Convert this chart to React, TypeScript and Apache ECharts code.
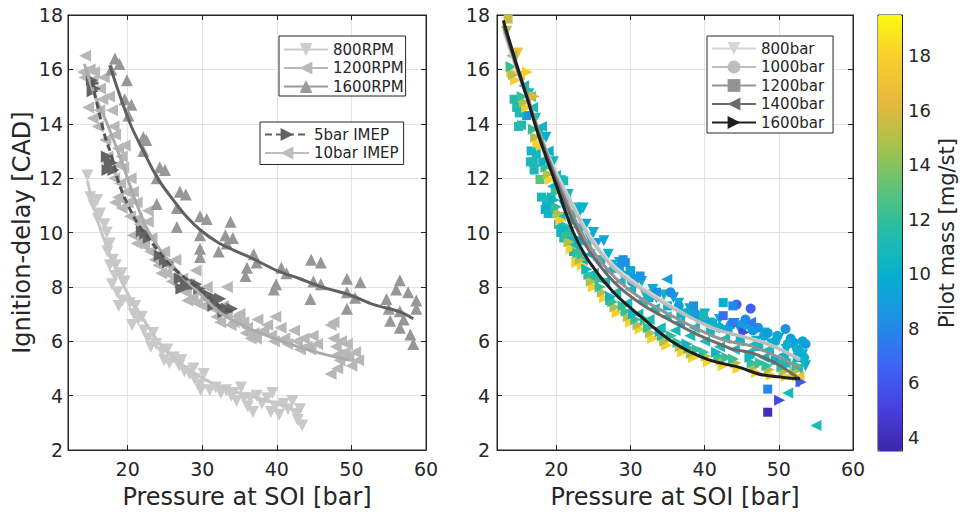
import React, { useEffect, useRef } from 'react';
import * as echarts from 'echarts';

// ---------------- Left panel data: [pressure at SOI (bar), ignition delay (CAD)] ----------------
const rpm800Points = [
  [14.6, 12.1], [15.0, 11.3], [15.4, 11.0], [15.9, 11.2], [16.3, 10.7], [16.9, 10.3], [17.2, 10.0], [17.6, 9.6],
  [17.3, 9.3], [18.0, 9.0], [17.6, 8.8], [18.3, 8.4], [17.9, 8.1], [18.6, 7.8], [19.2, 8.5], [19.6, 8.2],
  [19.3, 7.5], [18.8, 7.3], [20.3, 7.4], [20.8, 7.0], [21.4, 6.8], [20.6, 6.6], [21.9, 6.9], [22.2, 6.4],
  [22.7, 6.1], [23.1, 5.8], [23.8, 5.9], [24.6, 5.6], [24.9, 5.3], [25.6, 5.2], [26.2, 5.4], [26.9, 5.1],
  [27.6, 4.9], [28.3, 4.8], [29.0, 4.6], [29.7, 4.4], [30.2, 4.8], [29.8, 4.2], [31.0, 4.2], [31.8, 4.3],
  [32.5, 4.1], [33.2, 4.2], [33.9, 4.0], [34.6, 3.8], [35.2, 4.3], [35.6, 3.9], [36.1, 3.6], [36.8, 3.4],
  [37.3, 4.0], [38.0, 3.7], [38.7, 3.9], [39.4, 4.1], [39.8, 3.6], [40.3, 3.3], [40.9, 3.7], [41.5, 3.5],
  [42.1, 3.8], [42.6, 3.3], [43.1, 3.5], [43.4, 2.9], [42.8, 3.1], [16.0, 10.5], [18.4, 8.8], [21.0, 7.3],
  [23.4, 6.3], [25.3, 5.7], [27.2, 5.3], [28.8, 5.0], [34.2, 4.1], [36.4, 3.9], [39.2, 3.4]
];
const rpm1200Points = [
  [14.3, 16.5], [14.0, 15.9], [14.2, 15.7], [14.9, 16.0], [15.5, 15.9], [15.3, 15.6], [16.3, 15.3], [16.8, 15.7],
  [14.7, 14.6], [15.3, 14.2], [16.2, 14.5], [16.6, 14.9], [17.5, 15.0], [17.9, 14.5], [18.1, 13.9], [18.3, 13.6],
  [18.7, 13.1], [17.3, 12.8], [17.1, 12.6], [17.8, 12.3], [18.2, 12.0], [18.7, 12.5], [19.2, 12.8], [19.4, 12.4],
  [19.6, 13.2], [18.7, 11.3], [18.3, 11.1], [19.2, 10.9], [19.8, 11.5], [20.0, 11.1], [20.3, 10.6], [20.4, 12.0],
  [20.7, 11.5], [21.2, 11.1], [21.2, 10.5], [20.7, 9.9], [21.2, 9.6], [21.8, 10.0], [22.2, 9.5], [22.7, 10.4],
  [22.7, 10.8], [23.2, 9.8], [23.6, 9.0], [24.1, 8.8], [24.5, 8.5], [24.9, 9.3], [25.4, 8.8], [25.9, 8.2],
  [26.4, 9.0], [26.9, 8.0], [27.8, 7.8], [28.2, 8.1], [28.7, 7.6], [29.1, 8.6], [29.6, 7.8], [30.1, 7.3],
  [30.6, 8.0], [31.5, 7.2], [31.9, 6.9], [32.4, 6.7], [33.3, 8.0], [33.3, 7.0], [34.2, 6.7], [35.0, 7.0],
  [35.5, 6.7], [36.0, 6.5], [36.5, 6.1], [36.9, 6.3], [37.4, 6.8], [38.7, 6.6], [39.2, 6.2], [39.6, 6.0],
  [39.8, 6.9], [40.5, 6.5], [41.0, 6.1], [41.4, 5.9], [42.3, 6.4], [42.7, 6.0], [43.6, 6.1], [44.0, 5.8],
  [44.5, 5.7], [45.4, 5.9], [47.2, 6.6], [47.6, 6.7], [47.6, 6.1], [47.9, 5.8], [48.1, 5.5], [48.6, 6.0],
  [49.1, 5.6], [49.6, 5.4], [50.5, 5.6], [50.9, 5.3], [47.2, 4.8], [48.1, 5.0], [50.0, 5.1], [16.0, 13.9],
  [17.0, 13.4], [19.0, 11.8], [21.6, 10.3], [23.0, 9.3], [24.3, 9.1], [25.2, 8.5], [26.2, 8.4], [27.3, 8.3],
  [28.0, 7.5], [29.3, 7.4], [30.4, 7.6], [31.2, 7.5], [32.8, 7.3], [33.8, 6.6], [34.6, 6.9], [35.8, 6.3],
  [37.2, 6.1], [38.2, 6.4], [43.1, 5.7], [44.8, 6.2], [48.4, 5.3], [49.4, 5.9]
];
const rpm1600Points = [
  [18.3, 16.4], [18.9, 16.2], [17.8, 16.0], [19.9, 15.6], [19.6, 14.9], [20.5, 14.7], [20.1, 14.3], [22.1, 13.5],
  [22.5, 13.4], [22.1, 13.0], [24.3, 12.4], [25.0, 12.3], [23.9, 12.0], [23.9, 11.05], [27.0, 11.5], [27.8, 11.4],
  [26.6, 10.9], [26.6, 10.2], [29.7, 10.6], [30.6, 10.5], [29.7, 9.9], [29.7, 9.4], [29.7, 9.1], [32.2, 9.3],
  [33.3, 9.6], [33.8, 10.4], [33.1, 9.9], [34.1, 9.8], [36.0, 8.7], [36.9, 9.2], [35.8, 8.4], [37.3, 8.9],
  [40.6, 8.7], [41.3, 8.5], [39.9, 8.1], [39.6, 7.9], [44.6, 9.0], [45.9, 8.9], [44.9, 8.2], [45.9, 8.1],
  [44.5, 7.55], [49.4, 8.3], [51.2, 8.17], [49.4, 7.8], [49.4, 7.2], [50.5, 7.6], [56.5, 8.24], [56.0, 7.9],
  [57.6, 7.8], [58.7, 7.5], [54.7, 7.55], [55.2, 6.75], [56.5, 6.5], [57.9, 6.25], [58.3, 5.9], [56.5, 7.1],
  [58.7, 7.2], [55.0, 7.2], [57.0, 6.8]
];
const imep5Points = [
  [15.2, 15.6], [15.4, 15.5], [15.6, 15.3], [15.3, 15.2], [17.2, 12.8], [17.6, 12.55], [17.3, 12.3], [17.85, 12.57],
  [18.1, 12.3], [21.9, 10.05], [22.35, 9.95], [22.8, 9.8], [24.3, 9.15], [25.0, 9.0], [25.4, 8.9], [27.0, 8.3],
  [27.8, 8.17], [28.2, 8.05], [27.2, 7.93], [29.6, 7.93], [29.2, 8.1], [28.8, 8.1], [31.0, 7.68], [31.5, 7.31],
  [31.9, 7.5], [32.4, 7.56], [32.8, 7.2], [33.3, 7.2], [34.0, 7.2], [32.85, 7.07]
];
const fit800 = [[14.6, 11.9], [15.5, 10.9], [16.5, 10.0], [17.6, 9.2], [19, 8.3], [20.5, 7.5], [22, 6.85], [24.5, 5.85], [27, 5.2], [29.7, 4.7], [33, 4.25], [36.4, 4.0], [40, 3.7], [43.3, 3.4]];
const fit1200 = [[14.2, 16.2], [15.5, 15.1], [17.4, 13.9], [19.2, 12.6], [21.0, 11.2], [22.5, 10.2], [24.0, 9.5], [26.6, 8.6], [29.7, 7.75], [32.4, 7.05], [34.6, 6.7], [36.4, 6.45], [40.9, 5.98], [45.3, 5.6], [49.8, 5.3]];
const fit1600 = [[17.6, 16.15], [19, 15.0], [20.5, 13.9], [22.1, 13.0], [24, 12.0], [26.1, 11.2], [28, 10.55], [29.7, 10.1], [32, 9.65], [34.2, 9.35], [36.4, 9.09], [40, 8.6], [43.1, 8.3], [46, 8.0], [49.8, 7.7], [53, 7.35], [56.5, 7.08], [58.3, 6.83]];
const fit5bar = [[15.2, 15.6], [16.0, 14.6], [17.0, 13.5], [17.86, 12.8], [18.6, 12.0], [19.4, 11.4], [20.5, 10.75], [21.65, 10.2], [23.9, 9.4], [26.1, 8.7], [29.7, 7.9], [32.8, 7.2], [34.3, 7.1]];

// ---------------- Right panel data: [pressure at SOI (bar), ignition delay (CAD), pilot mass (mg/st)] ----------------
const inj800Points = [
  [13.3, 17.4, 15], [14.8, 16.6, 17], [16.3, 15.1, 11], [17.2, 14.2, 11.5], [18.0, 13.4, 10.5], [19.0, 12.5, 11],
  [20.0, 11.8, 12], [21.0, 11.0, 10.5], [22.0, 10.4, 10], [23.2, 10.8, 9.5], [23.6, 10.9, 10], [24.5, 9.8, 10],
  [25.5, 9.6, 9], [26.4, 9.7, 9.5], [27.5, 8.8, 10], [29.0, 8.4, 9.5], [30.5, 8.0, 10], [32.0, 7.7, 10.5],
  [33.5, 7.6, 9.5], [35.8, 7.6, 8.5], [37.0, 7.0, 10], [39.0, 6.8, 10], [41.0, 6.6, 10.5], [43.0, 6.4, 9.5],
  [45.0, 6.3, 10], [47.0, 6.0, 10], [49.0, 5.9, 9.5], [51.0, 5.7, 10], [52.7, 4.5, 5], [53.2, 5.5, 10],
  [18.6, 13.5, 10], [19.6, 12.6, 10.5], [20.6, 11.9, 10], [21.6, 11.4, 10], [22.6, 10.9, 10.5], [24.0, 10.3, 9.5],
  [25.0, 10.0, 10], [27.0, 9.2, 10], [28.5, 8.9, 9.5], [30.0, 8.5, 10], [31.5, 8.2, 10], [33.0, 7.9, 10],
  [34.5, 7.7, 10.5], [36.5, 7.4, 10], [38.0, 7.2, 10], [40.0, 7.0, 10], [42.0, 6.8, 10], [44.0, 6.65, 9.5],
  [46.0, 6.5, 10], [48.0, 6.3, 10], [50.0, 6.1, 9.5], [52.0, 5.8, 10], [53.6, 5.1, 9.5]
];
const inj1000Points = [
  [28.0, 8.7, 9], [30.2, 8.2, 9], [33.0, 7.7, 9.5], [35.4, 7.8, 8.5], [36.5, 7.3, 9], [38.0, 7.1, 10],
  [40.0, 6.8, 9.5], [42.0, 6.5, 10], [44.3, 7.35, 6.5], [46.2, 7.2, 6.5], [44.8, 6.6, 9], [46.5, 6.4, 9],
  [48.0, 6.2, 9.5], [49.5, 6.0, 10], [50.9, 6.45, 8.5], [51.6, 6.1, 9], [52.0, 5.95, 9], [52.5, 5.7, 10],
  [53.2, 6.0, 9.5], [53.6, 5.9, 9], [53.4, 5.4, 10], [38.8, 7.0, 9], [41.0, 6.7, 10], [43.5, 6.6, 9.5],
  [45.5, 6.8, 8], [47.2, 6.5, 8.5], [48.5, 6.3, 9], [49.8, 6.2, 9.5], [51.2, 5.9, 10], [52.8, 5.6, 10]
];
const inj1200Points = [
  [13.5, 17.85, 15.5], [14.65, 14.6, 11.5], [15.3, 13.95, 11], [16.0, 14.3, 9], [16.9, 12.6, 11], [17.3, 12.9, 11],
  [17.8, 11.95, 13], [18.7, 11.1, 10], [19.1, 11.2, 11], [19.6, 10.85, 10.5], [21.0, 11.9, 11], [21.4, 11.4, 11],
  [22.3, 9.3, 11], [25.0, 8.3, 11], [27.2, 7.5, 11], [29.0, 9.0, 8.5], [30.0, 8.6, 9.5], [31.3, 8.4, 8.5],
  [33.5, 7.8, 8.5], [35.0, 7.3, 10], [38.5, 7.3, 8.5], [39.85, 6.95, 11], [42.5, 7.42, 10], [43.8, 7.3, 8],
  [42.5, 6.94, 7], [43.8, 6.69, 7.5], [46.0, 6.6, 9], [48.5, 4.24, 8], [48.5, 3.39, 4], [49.5, 5.3, 10],
  [51.0, 5.2, 10.5], [52.5, 5.4, 10], [14.3, 14.9, 11.5], [15.0, 14.4, 11], [14.9, 13.9, 11.5], [16.5, 12.6, 11],
  [16.6, 13.0, 10.5], [17.0, 12.3, 11], [18.0, 11.3, 11], [18.5, 10.85, 10], [18.9, 10.7, 10.5], [19.3, 11.3, 11],
  [20.3, 10.3, 11], [20.6, 10.0, 10.5], [21.0, 9.8, 11], [21.8, 9.7, 11], [23.0, 9.7, 9.5], [26.0, 9.0, 10],
  [28.5, 8.7, 9], [29.3, 8.9, 8.5], [30.5, 8.3, 9], [32.5, 7.6, 10], [36.8, 7.0, 10.5], [40.8, 6.5, 10.5],
  [44.8, 6.1, 10.5], [47.3, 5.8, 10.5]
];
const inj1400Points = [
  [14.0, 16.5, 14], [15.0, 15.8, 16], [15.6, 15.4, 11], [16.5, 15.0, 13], [16.8, 14.6, 11], [17.5, 13.8, 11],
  [18.0, 13.9, 10.5], [18.5, 12.7, 11], [18.9, 13.0, 10], [19.5, 11.7, 10.5], [19.9, 12.1, 11], [20.5, 10.6, 11],
  [20.9, 11.3, 10.5], [21.5, 10.0, 11.5], [21.9, 10.7, 11], [22.5, 9.5, 11], [22.9, 10.2, 10.5], [23.5, 9.0, 11],
  [24.0, 9.6, 11], [24.5, 9.2, 10.5], [25.0, 8.5, 11], [25.6, 9.0, 11], [26.5, 8.2, 11], [27.0, 8.6, 10.5],
  [28.0, 7.8, 11.5], [28.6, 8.2, 11], [29.5, 7.4, 11], [30.0, 7.9, 10.5], [31.0, 7.0, 11], [31.6, 7.5, 11],
  [32.5, 6.8, 11], [33.2, 7.2, 10.5], [34.9, 8.28, 9], [34.0, 6.5, 11], [34.8, 6.9, 11], [36.0, 6.4, 11],
  [36.6, 6.7, 10.5], [38.0, 6.2, 11], [38.6, 6.5, 11], [40.0, 6.0, 11], [40.6, 6.3, 10.5], [42.0, 5.8, 11],
  [42.7, 6.1, 11], [43.0, 6.4, 9], [44.0, 5.7, 11], [44.6, 6.0, 10.5], [46.2, 6.7, 7.5], [46.0, 5.6, 11],
  [46.7, 5.9, 11], [48.0, 5.4, 10.5], [48.6, 5.7, 11], [50.0, 5.2, 11], [50.6, 5.5, 10.5], [51.2, 4.1, 11],
  [52.5, 5.0, 11], [53.0, 5.3, 10.5], [55.0, 2.9, 11], [52.7, 4.7, 17]
];
const inj1600Points = [
  [14.0, 15.9, 17.5], [14.5, 15.6, 18], [14.2, 15.8, 15], [13.9, 16.1, 12], [16.1, 15.9, 18], [16.0, 14.6, 18],
  [15.7, 14.8, 15], [15.4, 15.0, 12], [17.5, 13.3, 18], [17.2, 13.5, 15], [16.9, 13.8, 12], [17.0, 15.0, 16],
  [18.0, 13.2, 18], [19.2, 11.95, 18], [18.9, 12.15, 15], [18.6, 12.4, 12], [18.3, 12.6, 10.5], [20.6, 10.45, 18],
  [20.3, 10.7, 15], [20.0, 10.95, 12], [20.0, 11.5, 12], [19.7, 11.2, 10.5], [22.0, 9.4, 18], [21.7, 9.65, 15],
  [21.4, 9.9, 12], [21.5, 10.2, 12], [21.1, 10.15, 10.5], [22.75, 8.9, 18], [23.5, 8.8, 18], [23.2, 9.0, 15],
  [22.9, 9.25, 12], [23.5, 9.2, 12], [25.0, 8.0, 18], [24.7, 8.2, 15], [24.4, 8.45, 12], [24.1, 8.65, 10.5],
  [26.0, 8.3, 12], [26.5, 7.6, 18], [26.2, 7.8, 15], [25.9, 8.0, 12], [28.2, 7.05, 18], [27.9, 7.25, 15],
  [27.6, 7.45, 12], [27.3, 7.65, 10.5], [29.0, 7.3, 12], [30.0, 6.7, 18], [29.7, 6.9, 15], [29.4, 7.1, 12],
  [31.3, 6.45, 18], [31.0, 6.6, 15], [30.7, 6.8, 12], [30.4, 7.0, 10.5], [32.0, 6.8, 12], [33.0, 6.1, 18],
  [32.7, 6.3, 15], [32.4, 6.5, 12], [34.9, 5.85, 18], [34.6, 6.0, 15], [34.3, 6.2, 12], [34.0, 6.35, 10.5],
  [35.5, 6.2, 12], [37.0, 5.6, 18], [36.7, 5.8, 15], [36.4, 5.95, 12], [38.5, 5.4, 18], [38.2, 5.55, 15],
  [37.9, 5.75, 12], [37.6, 5.9, 10.5], [39.0, 5.7, 12], [40.5, 5.25, 18], [40.2, 5.45, 15], [39.9, 5.6, 12],
  [42.5, 5.1, 18], [42.2, 5.3, 15], [41.9, 5.45, 12], [41.6, 5.6, 10.5], [43.0, 5.4, 12], [44.5, 5.0, 18],
  [44.2, 5.2, 15], [43.9, 5.35, 12], [45.3, 6.33, 5.5], [47.0, 4.85, 18], [46.7, 5.05, 15], [46.4, 5.2, 12],
  [46.1, 5.4, 10.5], [47.5, 5.2, 12], [49.0, 4.75, 18], [48.7, 4.95, 15], [48.4, 5.1, 12], [50.1, 3.83, 5.5],
  [51.0, 4.7, 18], [50.7, 4.9, 15], [50.4, 5.05, 12], [52.0, 4.75, 18], [52.5, 4.7, 18], [52.2, 4.9, 15],
  [52.5, 5.1, 12], [53.0, 4.5, 6]
];
const fitInj800 = [[12.9, 17.4], [14.5, 16.1], [16, 15.0], [17.8, 13.6], [20, 12.2], [22.3, 11.0], [24.5, 9.9], [27.7, 8.8], [31.3, 8.03], [35.8, 7.25], [40.3, 6.56], [44.8, 6.2], [47, 6.05], [49.25, 5.83], [52.85, 5.34]];
const fitInj1000 = [[12.9, 17.5], [14.5, 16.2], [16, 15.0], [17.8, 13.6], [20, 12.1], [22.3, 10.9], [24.5, 9.8], [27.7, 8.7], [31.3, 7.95], [35.8, 7.2], [39.4, 6.7], [42, 6.4], [44, 6.25], [46, 6.1], [48.4, 5.9], [50.5, 5.65], [52.85, 5.3]];
const fitInj1200 = [[12.9, 17.7], [14.5, 16.3], [16, 15.1], [17.8, 13.6], [20, 12.0], [22.3, 10.6], [24.5, 9.5], [27.7, 8.4], [31.3, 7.6], [35.8, 6.9], [39.4, 6.4], [42, 6.1], [44, 5.95], [46, 5.85], [48.4, 5.6], [50.5, 5.35], [52.85, 5.0]];
const fitInj1400 = [[12.9, 17.6], [14.5, 16.2], [16, 15.0], [17.8, 13.5], [20, 11.9], [22.3, 10.4], [24.5, 9.3], [27.7, 8.2], [31.3, 7.4], [35.8, 6.7], [39.4, 6.2], [42, 5.9], [43.9, 5.7], [46, 5.6], [48.4, 5.35], [50.2, 5.1], [52.85, 4.6]];
const fitInj1600 = [[12.85, 17.8], [14.5, 16.3], [16, 15.0], [17.8, 13.4], [20.05, 11.7], [22.3, 10.0], [24.5, 8.9], [27.7, 7.8], [31.3, 6.93], [35.8, 5.95], [40.3, 5.34], [44.8, 5.03], [47.5, 4.78], [50.6, 4.67], [52.85, 4.62]];

const rpmLegend = ['800RPM', '1200RPM', '1600RPM'];
const imepLegend = ['5bar IMEP', '10bar IMEP'];
const injLegend = ['800bar', '1000bar', '1200bar', '1400bar', '1600bar'];

const parula = ['#3e26a8', '#4741e0', '#3d66f5', '#1f8fe5', '#05afd0', '#23bcaa', '#5dc278', '#a7c24c', '#e7b83c', '#f8cd2e', '#f9fb0e'];

const SYM_DOWN = 'path://M0,0L10,0L5,9Z';
const SYM_UP = 'path://M5,0L10,9L0,9Z';
const SYM_LEFT = 'path://M0,5L9,0L9,10Z';
const SYM_RIGHT = 'path://M0,0L9,5L0,10Z';

const FONT = 'DejaVu Sans';
const AX = '#262626';
const GRIDC = '#e3e3e3';

function mainX(gridIndex: number) {
  return [
    {
      gridIndex, type: 'value', min: 12, max: 60, splitNumber: 5, minInterval: 10, maxInterval: 10, position: 'bottom',
      axisLine: { show: true, onZero: false, lineStyle: { color: AX, width: 1 } },
      axisTick: { show: true, inside: true, length: 5, lineStyle: { color: AX } },
      axisLabel: { fontSize: 19, color: AX, margin: 9, showMinLabel: false, fontFamily: FONT },
      splitLine: { show: true, lineStyle: { color: GRIDC, width: 1 } },
      name: 'Pressure at SOI [bar]', nameLocation: 'middle', nameGap: 35,
      nameTextStyle: { fontSize: 24, color: AX, fontFamily: FONT }
    },
    {
      gridIndex, type: 'value', min: 12, max: 60, splitNumber: 5, minInterval: 10, maxInterval: 10, position: 'top',
      axisLine: { show: true, onZero: false, lineStyle: { color: AX, width: 1 } },
      axisTick: { show: true, inside: true, length: 5, lineStyle: { color: AX } },
      axisLabel: { show: false }, splitLine: { show: false }
    }
  ];
}
function mainY(gridIndex: number, withName: boolean, margin: number) {
  return [
    {
      gridIndex, type: 'value', min: 2, max: 18, interval: 2, position: 'left',
      axisLine: { show: true, onZero: false, lineStyle: { color: AX, width: 1 } },
      axisTick: { show: true, inside: true, length: 5, lineStyle: { color: AX } },
      axisLabel: { fontSize: 19, color: AX, margin, fontFamily: FONT },
      splitLine: { show: true, lineStyle: { color: GRIDC, width: 1 } },
      name: withName ? 'Ignition-delay [CAD]' : '', nameLocation: 'middle', nameGap: 34, nameRotate: 90,
      nameTextStyle: { fontSize: 24, color: AX, fontFamily: FONT }
    },
    {
      gridIndex, type: 'value', min: 2, max: 18, interval: 2, position: 'right',
      axisLine: { show: true, onZero: false, lineStyle: { color: AX, width: 1 } },
      axisTick: { show: true, inside: true, length: 5, lineStyle: { color: AX } },
      axisLabel: { show: false }, splitLine: { show: false }
    }
  ];
}

function scatter(name: string, data: number[][], symbol: string, size: number, xi: number, yi: number, color?: string) {
  return {
    type: 'scatter', name, data, symbol, symbolSize: size, xAxisIndex: xi, yAxisIndex: yi, silent: true,
    itemStyle: color ? { color, opacity: 1 } : { opacity: 1 }, z: 2
  };
}
function fit(name: string, data: number[][], symbol: string, color: string, xi: number, yi: number, dashed = false) {
  return {
    type: 'line', name, data, symbol, symbolSize: 12, showSymbol: false, smooth: 0.35, xAxisIndex: xi, yAxisIndex: yi,
    silent: true, color, itemStyle: { color },
    lineStyle: { color, width: 3, type: dashed ? [7, 4] : 'solid' }, z: 3
  };
}

function legendBox(names: string[], left: number, top: number, padding: number[], styles: Record<string, string>) {
  return {
    orient: 'vertical', left, top, padding, itemWidth: 44, itemHeight: 16, itemGap: 3.5,
    borderColor: AX, borderWidth: 1, backgroundColor: '#ffffff', borderRadius: 0,
    textStyle: { fontSize: 15, color: AX, fontFamily: FONT },
    selectedMode: false,
    data: names.map((n) => ({ name: n, itemStyle: { color: styles[n] }, lineStyle: { color: styles[n] } }))
  };
}

export default function App() {
  const ref = useRef<HTMLDivElement>(null);
  useEffect(() => {
    if (!ref.current) return;
    const chart = echarts.init(ref.current, undefined, { renderer: 'svg' });
    const option = {
      animation: false,
      backgroundColor: '#ffffff',
      textStyle: { fontFamily: FONT },
      grid: [
        { left: 68, top: 15, width: 358, height: 437, show: true, borderColor: AX, borderWidth: 1, backgroundColor: 'transparent' },
        { left: 497, top: 15, width: 356, height: 436, show: true, borderColor: AX, borderWidth: 1, backgroundColor: 'transparent' },
        { left: 878, top: 15, width: 24, height: 436, show: true, borderColor: AX, borderWidth: 1, backgroundColor: 'transparent' }
      ],
      xAxis: [
        ...mainX(0),
        ...mainX(1),
        { gridIndex: 2, type: 'value', min: 0, max: 1, show: false }
      ],
      yAxis: [
        ...mainY(0, true, 5),
        ...mainY(1, false, 7),
        {
          gridIndex: 2, type: 'value', min: 3.5, max: 19.5, splitNumber: 8, minInterval: 2, maxInterval: 2, position: 'right',
          axisLine: { show: true, onZero: false, lineStyle: { color: AX, width: 1 } },
          axisTick: { show: true, inside: true, length: 5, lineStyle: { color: AX } },
          axisLabel: { fontSize: 18, color: AX, margin: 6, showMinLabel: false, showMaxLabel: false, fontFamily: FONT },
          splitLine: { show: false },
          name: 'Pilot mass [mg/st]', nameLocation: 'middle', nameGap: 34, nameRotate: 90,
          nameTextStyle: { fontSize: 21, color: AX, fontFamily: FONT }
        }
      ],
      visualMap: {
        type: 'continuous', min: 3.5, max: 19.5, dimension: 2, seriesIndex: [9, 10, 11, 12, 13],
        inRange: { color: parula }, show: true, calculable: false, hoverLink: false,
        left: 878, top: 15, itemWidth: 24, itemHeight: 436, padding: 0, text: null, z: 1
      },
      legend: [
        legendBox(rpmLegend, 279, 36, [6, 2, 2, 4], { '800RPM': '#cccccc', '1200RPM': '#b9b9b9', '1600RPM': '#9a9a9a' }),
        legendBox(imepLegend, 260, 122, [5, 5, 4, 4], { '5bar IMEP': '#616161', '10bar IMEP': '#bdbdbd' }),
        legendBox(injLegend, 707, 36, [5, 9, 3, 4], { '800bar': '#d6d6d6', '1000bar': '#bdbdbd', '1200bar': '#939393', '1400bar': '#6b6b6b', '1600bar': '#1e1e1e' })
      ],
      series: [
        scatter('rpm800 pts', rpm800Points, SYM_DOWN, 12, 0, 0, '#c9c9c9'),
        scatter('rpm1200 pts', rpm1200Points, SYM_LEFT, 12, 0, 0, '#b7b7b7'),
        scatter('rpm1600 pts', rpm1600Points, SYM_UP, 12, 0, 0, '#979797'),
        scatter('imep5 pts', imep5Points, SYM_RIGHT, 12, 0, 0, '#646464'),
        fit('800RPM', fit800, SYM_DOWN, '#c6c6c6', 0, 0),
        fit('1200RPM', fit1200, SYM_LEFT, '#ababab', 0, 0),
        fit('1600RPM', fit1600, SYM_UP, '#606060', 0, 0),
        fit('5bar IMEP', fit5bar, SYM_RIGHT, '#555555', 0, 0, true),
        fit('10bar IMEP', [], SYM_LEFT, '#bdbdbd', 0, 0),
        scatter('inj800 pts', inj800Points, SYM_DOWN, 11, 2, 2),
        scatter('inj1000 pts', inj1000Points, 'circle', 10, 2, 2),
        scatter('inj1200 pts', inj1200Points, 'rect', 9, 2, 2),
        scatter('inj1400 pts', inj1400Points, SYM_LEFT, 11, 2, 2),
        scatter('inj1600 pts', inj1600Points, SYM_RIGHT, 11, 2, 2),
        fit('800bar', fitInj800, SYM_DOWN, '#d6d6d6', 2, 2),
        fit('1000bar', fitInj1000, 'circle', '#bdbdbd', 2, 2),
        fit('1200bar', fitInj1200, 'rect', '#939393', 2, 2),
        fit('1400bar', fitInj1400, SYM_LEFT, '#6b6b6b', 2, 2),
        fit('1600bar', fitInj1600, SYM_RIGHT, '#1e1e1e', 2, 2)
      ]
    };
    chart.setOption(option as any);
    return () => chart.dispose();
  }, []);
  return (
    <div
      ref={ref}
      style={{ position: 'absolute', left: 0, top: 0, width: 962, height: 514, background: '#ffffff' }}
    />
  );
}
